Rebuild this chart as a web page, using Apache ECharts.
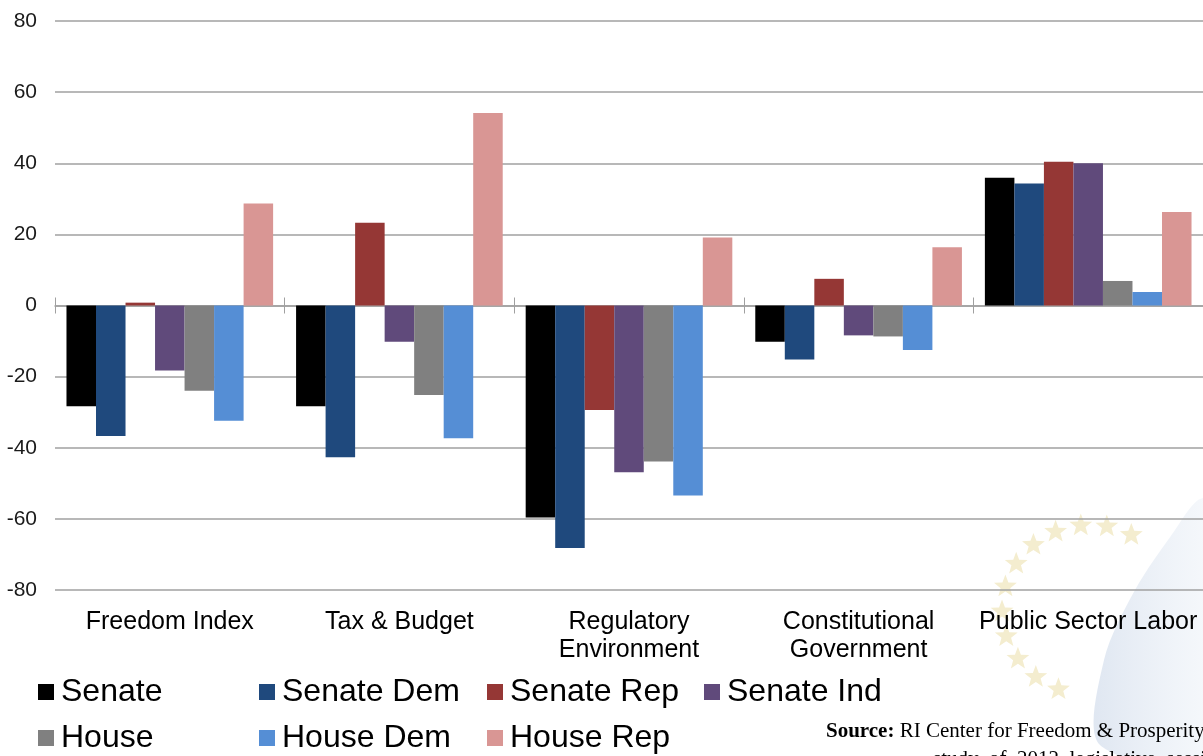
<!DOCTYPE html>
<html>
<head>
<meta charset="utf-8">
<script src="https://cdn.jsdelivr.net/npm/echarts@6/dist/echarts.min.js"></script>
<style>
  html, body { margin: 0; padding: 0; background: #fff; }
  #chart { width: 1203px; height: 756px; }
</style>
</head>
<body>
<div id="chart"></div>
<script>
// categories & values
var categories = ["Freedom Index", "Tax & Budget", "Regulatory\nEnvironment", "Constitutional\nGovernment", "Public Sector Labor"];
var seriesNames = ["Senate", "Senate Dem", "Senate Rep", "Senate Ind", "House", "House Dem", "House Rep"];
var senate    = [-28.3, -28.3, -59.6, -10.2, 35.9];
var senateDem = [-36.7, -42.7, -68.2, -15.2, 34.3];
var senateRep = [0.8, 23.3, -29.4, 7.5, 40.4];
var senateInd = [-18.3, -10.2, -46.9, -8.4, 40.0];
var house     = [-24.0, -25.2, -43.9, -8.7, 6.9];
var houseDem  = [-32.4, -37.3, -53.4, -12.5, 3.8];
var houseRep  = [28.7, 54.1, 19.1, 16.4, 26.3];
var yMin = -80, yMax = 80, yStep = 20;

var seriesData = [senate, senateDem, senateRep, senateInd, house, houseDem, houseRep];
var colors = ["#000000", "#1f497d", "#953735", "#604a7b", "#808080", "#558ed5", "#d99694"];

var chart = echarts.init(document.getElementById("chart"));

// legend items sit in fixed columns, two rows
var legendLeft = [38, 259, 487, 704, 38, 259, 487];
var legendTop = [676, 676, 676, 676, 722, 722, 722];

// faint logo in the bottom right corner (decoration only)
function starPoints(cx, cy, r) {
  var pts = [];
  for (var k = 0; k < 10; k++) {
    var a = -Math.PI / 2 + k * Math.PI / 5;
    var rr = k % 2 === 0 ? r : r * 0.42;
    pts.push([cx + rr * Math.cos(a), cy + rr * Math.sin(a)]);
  }
  return pts;
}
var logo = [];
for (var s = 0; s < 12; s++) {
  var ang = (62 + s * 17) * Math.PI / 180;
  logo.push({
    type: "polygon",
    z: -10,
    shape: { points: starPoints(1090 + 88 * Math.cos(ang), 610 - 85 * Math.sin(ang), 12) },
    style: { fill: "#f4edcf" }
  });
}
logo.push({
  type: "polygon",
  z: -9,
  shape: {
    smooth: 0.3,
    points: [[1198, 500], [1215, 500], [1215, 760], [1100, 745], [1104, 660], [1135, 590], [1175, 530]]
  },
  style: {
    fill: new echarts.graphic.LinearGradient(0, 0, 1, 0, [
      { offset: 0, color: "rgba(150,175,210,0.3)" },
      { offset: 1, color: "rgba(220,230,242,0.2)" }
    ])
  }
});

var option = {
  animation: false,
  backgroundColor: "#fff",
  textStyle: { fontFamily: "Liberation Sans, Arial, sans-serif" },
  grid: { left: 55, right: 0, top: 21, bottom: 166, containLabel: false },
  legend: seriesNames.map(function (n, i) {
    return {
      data: [n],
      left: legendLeft[i],
      top: legendTop[i],
      padding: 0,
      icon: "rect",
      itemWidth: 16,
      itemHeight: 16,
      selectedMode: false,
      textStyle: { fontSize: 32, color: "#000", padding: [0, 0, 0, 2] }
    };
  }),
  xAxis: [
    {
      type: "category",
      data: categories,
      position: "bottom",
      axisLine: { show: false, onZero: false },
      axisTick: { show: false },
      axisLabel: { interval: 0, fontSize: 25, lineHeight: 28, color: "#000", margin: 18 }
    },
    {
      type: "category",
      data: categories,
      position: "top",
      axisLine: { show: true, onZero: true, onZeroAxisIndex: 0, lineStyle: { color: "#a0a0a0", width: 1.5 } },
      axisTick: { show: true, length: 8, lineStyle: { color: "#a0a0a0" } },
      axisLabel: { show: false }
    },
    {
      type: "category",
      data: categories,
      position: "top",
      axisLine: { show: false, onZero: true, onZeroAxisIndex: 0 },
      axisTick: { show: true, inside: true, length: 8, lineStyle: { color: "#a0a0a0" } },
      axisLabel: { show: false }
    }
  ],
  yAxis: {
    type: "value",
    min: yMin,
    max: yMax,
    interval: yStep,
    axisLine: { show: false },
    axisTick: { show: false },
    axisLabel: { fontSize: 21, color: "#1a1a1a", margin: 18 },
    splitLine: { lineStyle: { color: "#a0a0a0", width: 1.5 } }
  },
  graphic: logo.concat([
    {
      type: "text",
      left: 826,
      top: 721,
      z: 10,
      style: {
        text: "{b|Source:} RI Center for Freedom & Prosperity",
        fontFamily: "Liberation Serif, Times New Roman, serif",
        fontSize: 21,
        fill: "#000",
        rich: { b: { fontWeight: "bold", fontSize: 21, fontFamily: "Liberation Serif, Times New Roman, serif" } }
      }
    },
    {
      type: "text",
      left: 933,
      top: 749,
      z: 10,
      style: {
        text: "study  of  2012  legislative  session",
        fontFamily: "Liberation Serif, Times New Roman, serif",
        fontSize: 21,
        fill: "#000"
      }
    }
  ]),
  series: seriesNames.map(function (n, i) {
    return {
      name: n,
      type: "bar",
      xAxisIndex: 0,
      barGap: "0%",
      barCategoryGap: "10%",
      itemStyle: { color: colors[i] },
      data: seriesData[i]
    };
  })
};

chart.setOption(option);
</script>
</body>
</html>
